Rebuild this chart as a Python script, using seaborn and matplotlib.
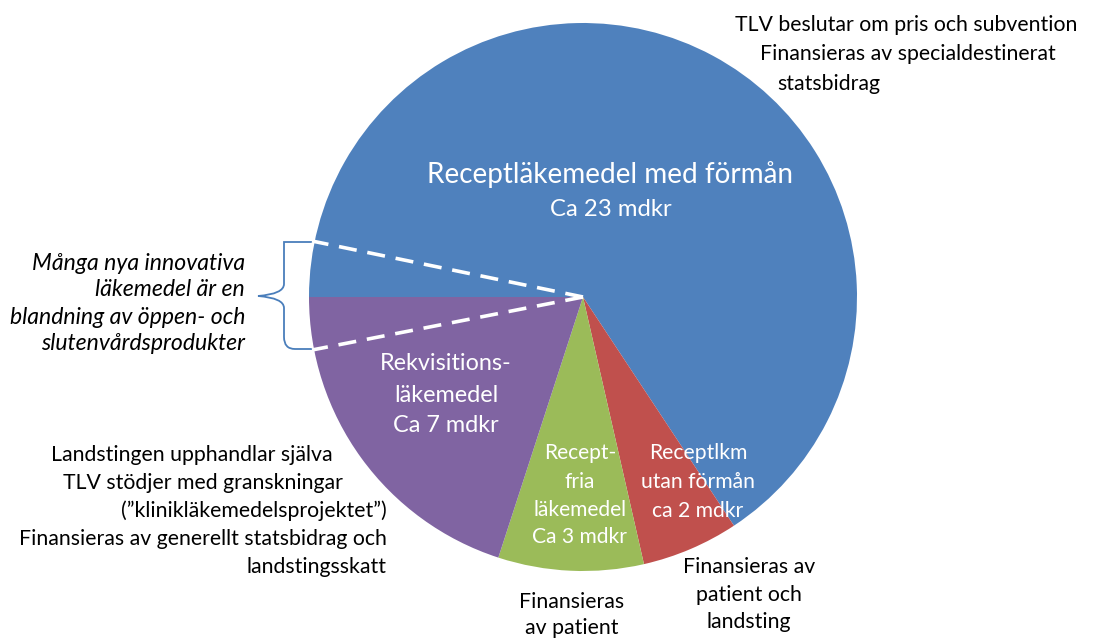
import numpy as np
import matplotlib
matplotlib.use("Agg")
import matplotlib.pyplot as plt
import seaborn as sns
from matplotlib.path import Path
from matplotlib.patches import PathPatch

# ---- data ----
categories = ["Receptläkemedel med förmån", "Receptlkm utan förmån",
              "Receptfria läkemedel", "Rekvisitionsläkemedel"]
values_mdkr = [23, 2, 3, 7]
colors = ["#4F81BD", "#C0504D", "#9BBB59", "#8064A2"]

sns.set_theme(style="white")
FONT = ["Lato", "DejaVu Sans"]
plt.rcParams["font.family"] = FONT

W, H = 1093, 639
fig = plt.figure(figsize=(W / 100, H / 100), dpi=100)
ax = fig.add_axes([0, 0, 1, 1])

def Y(y):
    return H - y

CX, CY, R = 583, 297, 274
ax.pie(values_mdkr, colors=colors, startangle=180, counterclock=False,
       center=(CX, Y(CY)), radius=R, frame=True,
       wedgeprops=dict(linewidth=0))
ax.set_xlim(0, W)
ax.set_ylim(0, H)
ax.set_aspect("equal")
ax.axis("off")

renderer = fig.canvas.get_renderer()

def fit(text, target, style="normal"):
    t = ax.text(0, 0, text, fontsize=20, style=style)
    w = t.get_window_extent(renderer).width
    t.remove()
    return 20 * target / w

def put(x, y, text, size, color="black", ha="center", style="normal"):
    ax.text(x, Y(y), text, fontsize=size, color=color, ha=ha, va="center",
            style=style)

# big blue label
s_big = fit("Receptläkemedel med förmån", 366)
put(610, 175, "Receptläkemedel med förmån", s_big, "white")
s_sub = fit("Ca 23 mdkr", 122)
put(611, 210, "Ca 23 mdkr", s_sub, "white")

# purple label
s_p = fit("Rekvisitions-", 132)
for yy, tx in zip([363, 395, 425], ["Rekvisitions-", "läkemedel", "Ca 7 mdkr"]):
    put(446, yy, tx, s_p, "white")

# green label
s_g = fit("läkemedel", 94)
for yy, tx in zip([453, 482, 510, 537], ["Recept-", "fria", "läkemedel", "Ca 3 mdkr"]):
    put(580, yy, tx, s_g, "white")

# red label
s_r = fit("utan förmån", 114)
for yy, tx in zip([453, 482, 511], ["Receptlkm", "utan förmån", "ca 2 mdkr"]):
    put(698, yy, tx, s_r, "white")

# black notes
s_n = fit("Finansieras av generellt statsbidrag och", 368)
put(906, 25, "TLV beslutar om pris och subvention", s_n)
put(760, 54, "Finansieras av specialdestinerat", s_n, ha="left")
put(777, 84, "statsbidrag", s_n, ha="left")

for yy, tx, xr in zip([455, 483, 511, 539, 567],
                      ["Landstingen upphandlar själva",
                       "TLV stödjer med granskningar",
                       "(”klinikläkemedelsprojektet”)",
                       "Finansieras av generellt statsbidrag och",
                       "landstingsskatt"],
                      [333, 343, 387, 387, 387]):
    put(xr, yy, tx, s_n, ha="right")

for yy, tx in zip([567, 595, 622], ["Finansieras av", "patient och", "landsting"]):
    put(749, yy, tx, s_n)
for yy, tx in zip([602, 628], ["Finansieras", "av patient"]):
    put(572, yy, tx, s_n)

# italic note
s_i = fit("blandning av öppen- och", 235, style="italic")
for yy, tx in zip([263, 290, 317, 343],
                  ["Många nya innovativa", "läkemedel är en",
                   "blandning av öppen- och", "slutenvårdsprodukter"]):
    put(245, yy, tx, s_i, ha="right", style="italic")

# dashed white lines
for ex, ey in [(312, 241), (312, 350)]:
    ax.plot([CX, ex], [Y(CY), Y(ey)], color="white", lw=2.6,
            dashes=(5, 3), solid_capstyle="butt", zorder=5)

# curly brace
bx, tipx, top, bot, mid = 284, 258, 242, 349, 296
verts = [
    (313, Y(top)), (295, Y(top)), (bx, Y(top)), (bx, Y(top + 12)),
    (bx, Y(mid - 12)), (bx, Y(mid - 2)), (tipx, Y(mid)),
    (bx, Y(mid + 2)), (bx, Y(mid + 12)),
    (bx, Y(bot - 12)), (bx, Y(bot)), (295, Y(bot)), (313, Y(bot)),
]
codes = [Path.MOVETO, Path.CURVE3, Path.CURVE3, Path.LINETO,
         Path.LINETO, Path.CURVE3, Path.CURVE3,
         Path.CURVE3, Path.CURVE3,
         Path.LINETO, Path.CURVE3, Path.CURVE3, Path.LINETO]
ax.add_patch(PathPatch(Path(verts, codes), fill=False, edgecolor="#4A7EBB",
                       lw=1.3, zorder=4))

fig.savefig("out.png", dpi=100, facecolor="white")
